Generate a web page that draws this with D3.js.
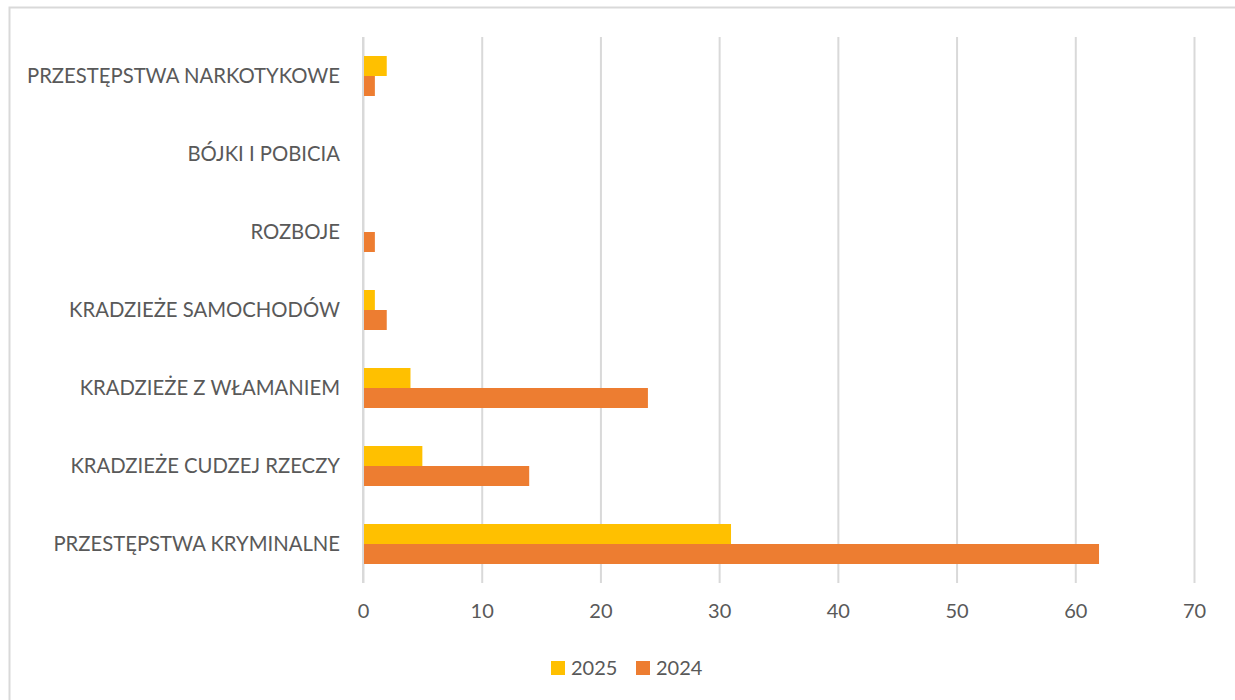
<!DOCTYPE html>
<meta charset="utf-8">
<script src="https://d3js.org/d3.v7.min.js"></script>
<style>
  body { margin: 0; background: #fff; }
  text { font-family: Lato, "Open Sans", sans-serif; fill: #595959; }
</style>
<div id="graph"></div>
<script>
// data, top to bottom
var categories = ['PRZESTĘPSTWA NARKOTYKOWE', 'BÓJKI I POBICIA', 'ROZBOJE',
  'KRADZIEŻE SAMOCHODÓW', 'KRADZIEŻE Z WŁAMANIEM', 'KRADZIEŻE CUDZEJ RZECZY',
  'PRZESTĘPSTWA KRYMINALNE']
var values2025 = [2, 0, 0, 1, 4, 5, 31]
var values2024 = [1, 0, 1, 2, 24, 14, 62]
var seriesNames = ['2025', '2024']
var xTicks = [0, 10, 20, 30, 40, 50, 60, 70]

var colors = {'2025': '#FFC000', '2024': '#ED7D31'}

var W = 1235, H = 700
var plot = {left: 363, right: 1194, top: 37, bottom: 583}

var svg = d3.select('#graph').append('svg')
  .attr('width', W).attr('height', H)

// chart border (top and left edges visible in the crop)
svg.append('path')
  .attr('d', 'M9.5,' + H + ' L9.5,7.5 L' + W + ',7.5')
  .attr('fill', 'none').attr('stroke', '#D9D9D9').attr('stroke-width', 2)

var x = d3.scaleLinear().domain([0, 70]).range([plot.left, plot.right])
var y = d3.scaleBand().domain(categories).range([plot.top, plot.bottom])
var inner = d3.scaleBand().domain(seriesNames)
  .range([0, y.bandwidth()]).paddingInner(0).paddingOuter(0.95)

// gridlines
svg.append('g')
  .attr('transform', 'translate(0,' + plot.bottom + ')')
  .call(d3.axisBottom(x).tickValues(xTicks).tickSize(-(plot.bottom - plot.top)).tickFormat(''))
  .call(g => g.select('.domain').remove())
  .selectAll('line').attr('stroke', '#D9D9D9').attr('stroke-width', 2)

// tick labels
svg.append('g')
  .attr('transform', 'translate(0,' + plot.bottom + ')')
  .call(d3.axisBottom(x).tickValues(xTicks).tickSize(0).tickPadding(21))
  .call(g => g.select('.domain').remove())
  .selectAll('text')
  .style('font-size', '20px').attr('fill', '#595959')

// category labels
svg.append('g')
  .attr('transform', 'translate(' + plot.left + ',0)')
  .call(d3.axisLeft(y).tickSize(0).tickPadding(23))
  .call(g => g.select('.domain').remove())
  .selectAll('text')
  .style('font-size', '20.3px').attr('fill', '#595959')

var rows = categories.map(function(c, i) {
  return {cat: c, '2025': values2025[i], '2024': values2024[i]}
})

// bars
seriesNames.forEach(function(s) {
  svg.append('g').selectAll('rect')
    .data(rows)
    .join('rect')
    .attr('x', x(0))
    .attr('y', d => y(d.cat) + inner(s))
    .attr('width', d => x(d[s]) - x(0))
    .attr('height', inner.bandwidth())
    .attr('fill', colors[s])
})

// zero axis line on top of bars
svg.append('line')
  .attr('x1', x(0)).attr('x2', x(0))
  .attr('y1', plot.top).attr('y2', plot.bottom)
  .attr('stroke', '#D9D9D9').attr('stroke-width', 2)

// legend
var legend = svg.append('g').selectAll('g')
  .data(seriesNames)
  .join('g')
  .attr('transform', (d, i) => 'translate(' + (551 + i * 85) + ',661)')
legend.append('rect').attr('width', 14).attr('height', 14).attr('fill', d => colors[d])
legend.append('text').attr('x', 20).attr('y', 14)
  .style('font-size', '20px').text(d => d)
</script>
